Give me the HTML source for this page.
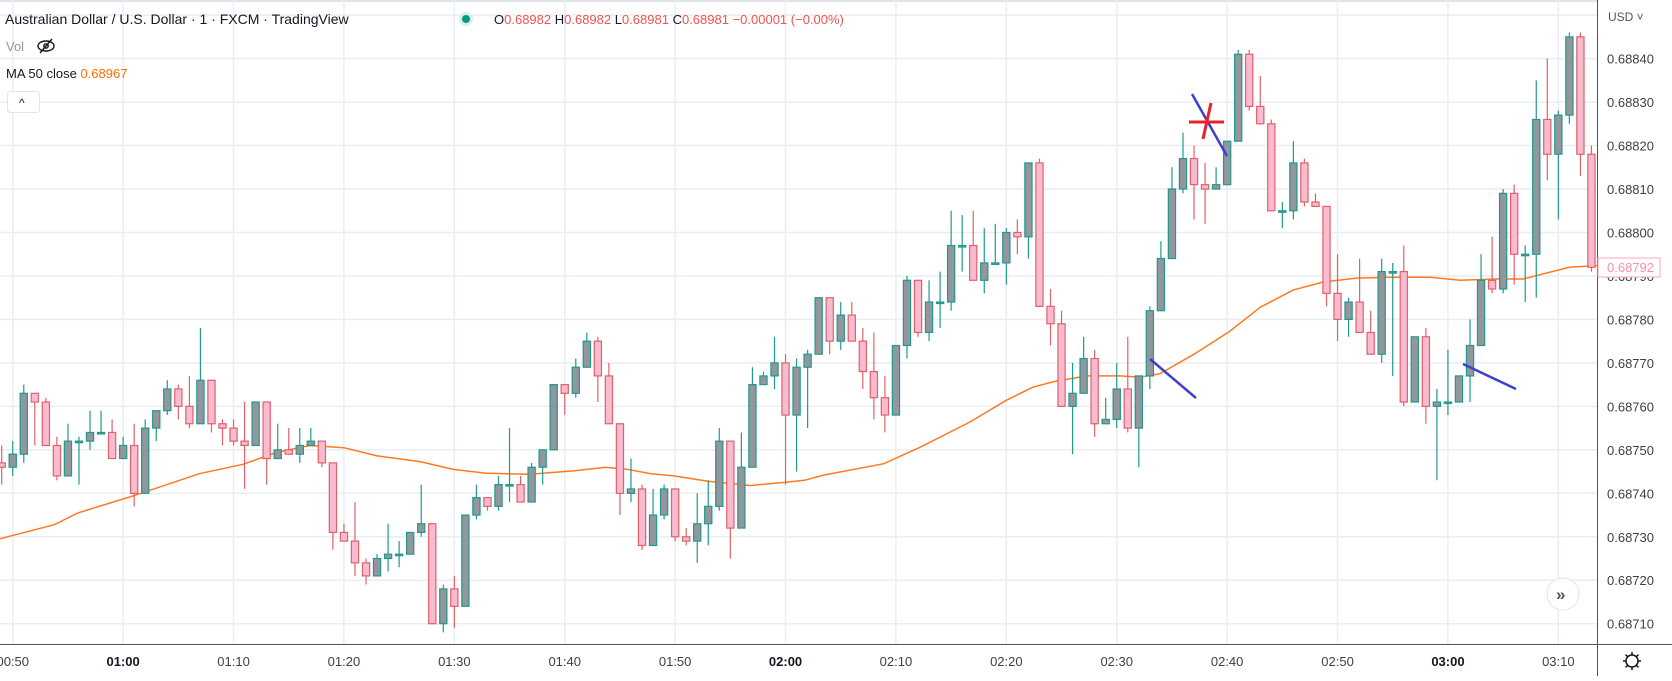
<!DOCTYPE html>
<html><head><meta charset="utf-8">
<style>
html,body{margin:0;padding:0;background:#fff;}
body{width:1672px;height:676px;overflow:hidden;font-family:"Liberation Sans",sans-serif;}
svg text{font-family:"Liberation Sans",sans-serif;}
</style></head>
<body>
<svg id="chart" width="1672" height="676" viewBox="0 0 1672 676" xmlns="http://www.w3.org/2000/svg">
  <rect x="0" y="0" width="1672" height="676" fill="#ffffff"/>
  <line x1="0" y1="1" x2="1672" y2="1" stroke="#e0e3eb" stroke-width="2"/>
  <g id="grid"></g>
  <g id="ma"></g>
  <g id="candles"></g>
  <g id="drawings">
    <line x1="1192" y1="94" x2="1227" y2="156" stroke="#3f3fcc" stroke-width="2.5"/>
    <line x1="1189" y1="122" x2="1224" y2="122" stroke="#e8202a" stroke-width="3"/>
    <line x1="1211" y1="103" x2="1203" y2="139" stroke="#e8202a" stroke-width="3"/>
    <line x1="1150" y1="359" x2="1196" y2="398" stroke="#3f3fcc" stroke-width="2.5"/>
    <line x1="1463" y1="364" x2="1516" y2="389" stroke="#3f3fcc" stroke-width="2.5"/>
  </g>
  <rect x="1597" y="0" width="75" height="676" fill="#ffffff"/>
  <rect x="0" y="644" width="1672" height="32" fill="#ffffff"/>
  <line x1="1597.5" y1="0" x2="1597.5" y2="676" stroke="#50535e" stroke-width="1"/>
  <line x1="0" y1="644.5" x2="1672" y2="644.5" stroke="#50535e" stroke-width="1"/>
  <g id="yaxis"></g>
  <g id="xaxis"></g>
  <text x="1608" y="21" font-size="12" fill="#50535e">USD ˅</text>
  <g>
    <rect x="1598" y="258" width="62" height="19" fill="#fff" stroke="#f7a9bd" stroke-width="1"/>
    <text x="1607" y="272" font-size="13" fill="#f48fb1">0.68792</text>
  </g>
  <g transform="translate(1632,661)">
    <circle r="6" fill="none" stroke="#131722" stroke-width="1.5"/>
    <g stroke="#131722" stroke-width="1.5">
      <line x1="0" y1="-9" x2="0" y2="-6"/><line x1="0" y1="6" x2="0" y2="9"/>
      <line x1="-9" y1="0" x2="-6" y2="0"/><line x1="6" y1="0" x2="9" y2="0"/>
      <line x1="-6.4" y1="-6.4" x2="-4.2" y2="-4.2"/><line x1="4.2" y1="4.2" x2="6.4" y2="6.4"/>
      <line x1="-6.4" y1="6.4" x2="-4.2" y2="4.2"/><line x1="4.2" y1="-4.2" x2="6.4" y2="-6.4"/>
    </g>
  </g>
  <g>
    <circle cx="1563" cy="594" r="16" fill="#fff" stroke="#e0e3eb"/>
    <text x="1556" y="600" font-size="17" font-weight="bold" fill="#50535e">»</text>
  </g>
  <text x="5" y="24" font-size="14" fill="#131722">Australian Dollar / U.S. Dollar · 1 · FXCM · TradingView</text>
  <circle cx="466" cy="19" r="7" fill="#d6f0ed"/>
  <circle cx="466" cy="19" r="4" fill="#089981"/>
  <text x="494" y="24" font-size="13" fill="#131722">O<tspan fill="#ef5350">0.68982</tspan> H<tspan fill="#ef5350">0.68982</tspan> L<tspan fill="#ef5350">0.68981</tspan> C<tspan fill="#ef5350">0.68981 −0.00001 (−0.00%)</tspan></text>
  <text x="6" y="51" font-size="13" fill="#9598a1">Vol</text>
  <g transform="translate(46,46)">
    <ellipse rx="8" ry="5" fill="none" stroke="#131722" stroke-width="1.4"/>
    <circle r="2.2" fill="none" stroke="#131722" stroke-width="1.4"/>
    <line x1="-6" y1="7" x2="6" y2="-7" stroke="#131722" stroke-width="1.4"/>
  </g>
  <text x="6" y="78" font-size="13" fill="#131722">MA 50 close <tspan fill="#ff6d00">0.68967</tspan></text>
  <g>
    <rect x="7.5" y="91.5" width="32" height="21" rx="3" fill="#fff" stroke="#e0e3eb"/>
    <text x="19" y="107" font-size="12" fill="#131722">^</text>
  </g>
</svg>
<script>
var opens=[747,746,749,763,761,751,744,752,752,754,754,748,751,740,755,759,764,760,756,766,756,755,752,751,761,748,750,749,751,752,747,731,729,724,721,725,726,726,731,733,710,718,714,735,739,737,742,742,738,746,750,765,763,769,775,767,756,740,741,728,735,741,730,729,733,737,752,732,746,765,767,770,758,769,772,785,775,781,775,768,762,758,774,789,777,784,784,797,797,789,793,793,800,799,816,783,779,760,763,771,756,757,764,755,767,782,794,810,817,811,810,811,821,841,829,825,805,805,816,807,806,786,780,784,777,772,791,791,761,776,760,761,761,767,774,789,787,809,795,795,826,818,827,845,818];
var highs=[751,752,765,763,762,753,756,753,759,759,757,753,756,757,759,766,765,767,778,766,757,757,761,761,761,756,755,755,755,752,747,733,738,725,726,733,729,731,742,733,719,721,735,742,739,744,755,744,747,750,765,765,771,777,776,770,756,748,742,741,742,741,732,740,743,755,752,754,769,768,776,772,771,773,785,785,784,784,778,777,767,774,790,789,789,791,805,804,805,801,802,801,803,816,817,787,782,770,776,773,762,770,776,767,783,798,815,823,820,816,815,821,842,842,836,826,807,821,817,809,806,795,785,794,782,794,793,797,776,778,764,773,767,780,795,799,810,811,797,835,840,828,846,846,820];
var lows=[742,744,747,751,751,743,744,742,750,754,748,748,737,740,752,758,757,755,756,754,751,751,741,751,742,748,749,747,751,746,727,729,721,719,721,722,723,726,730,710,708,709,714,734,736,736,738,738,738,742,750,758,762,769,761,756,735,738,727,728,734,729,728,724,728,736,725,732,746,765,764,742,745,755,772,772,773,775,764,757,754,758,771,776,775,778,782,791,789,786,793,788,795,794,783,774,760,749,763,753,756,755,754,746,764,782,794,809,803,802,810,811,821,828,825,805,801,803,806,806,783,775,776,777,772,770,767,760,761,756,743,758,761,761,774,786,786,788,784,785,812,803,825,813,791];
var closes=[746,749,763,761,751,744,752,752,754,754,748,751,740,755,759,764,760,756,766,756,755,752,751,761,748,750,749,751,752,747,731,729,724,721,725,726,726,731,733,710,718,714,735,739,737,742,742,738,746,750,765,763,769,775,767,756,740,741,728,735,741,730,729,733,737,752,732,746,765,767,770,758,769,772,785,775,781,775,768,762,758,774,789,777,784,784,797,797,789,793,793,800,799,816,783,779,760,763,771,756,757,764,755,767,782,794,810,817,811,810,811,821,841,829,825,805,805,816,807,806,786,780,784,777,772,791,791,761,776,760,761,761,767,774,789,787,809,795,795,826,818,827,845,818,792];
var maIdx=[-0.2,4.8,6.9,11.9,17.9,21.9,24.9,27.9,31,34,37.9,40.9,43.9,47.8,51.9,54.7,56.7,58.8,60.9,63.9,67.8,70.9,72.7,74.5,79.9,83.2,87.7,91,93.4,95.3,98.3,101.3,103.1,104.9,108,111.2,114,117,119.7,122.7,125.8,129.4,132.1,135.4,137.8,142,144.5];
var maVal=[729.5,732.8,735.5,739.4,744.5,746.7,749.4,751,750.5,748.6,747.3,745.5,744.6,744.4,745.2,746,745.5,744.5,744,742.8,741.8,742.5,743,744.2,746.8,750.6,756.4,761.4,764.4,765.7,767,767,766.7,767.5,772,777.2,782.8,786.8,788.6,789.5,789.7,789.7,789,789.3,789.3,792,792.4];
var priceTicks=[850,840,830,820,810,800,790,780,770,760,750,740,730,720,710];
var timeLabels=["00:50","01:00","01:10","01:20","01:30","01:40","01:50","02:00","02:10","02:20","02:30","02:40","02:50","03:00","03:10"];
var timeIdx=[1,11,21,31,41,51,61,71,81,91,101,111,121,131,141];
var boldLabels=["01:00","02:00","03:00"];

(function(){
var NS="http://www.w3.org/2000/svg";
function xScale(i){return 1.7+11.04*i;}
function yScale(u){return 58.6+(840-u)*4.347;}
function mk(tag,attrs,parent){var e=document.createElementNS(NS,tag);for(var k in attrs)e.setAttribute(k,attrs[k]);parent.appendChild(e);return e;}

var grid=document.getElementById('grid');
var yaxis=document.getElementById('yaxis');
var xaxis=document.getElementById('xaxis');
priceTicks.forEach(function(u){
  var y=yScale(u);
  var gl=mk('line',{x1:0,x2:1597,y1:y,y2:y,stroke:'#e9eef3','stroke-width':1.5},grid);
  
  
  if(u<=840){
    var t=mk('text',{x:1607,y:y+5,'font-size':13,fill:'#3c3f4a'},yaxis);
    t.textContent=(0.68+u/100000).toFixed(5);
    
    
  }
});
timeIdx.forEach(function(idx,k){
  var x=xScale(idx);
  var gl=mk('line',{x1:x,x2:x,y1:0,y2:644,stroke:'#e9eef3','stroke-width':1.5},grid);
  
  
  var b=boldLabels.indexOf(timeLabels[k])>=0;
  var t=mk('text',{x:x,y:666,'font-size':13,'text-anchor':'middle',fill:b?'#131722':'#3c3f4a','font-weight':b?'bold':'normal'},xaxis);
  t.textContent=timeLabels[k];
  
  
});

var ma=document.getElementById('ma');
var pts=maIdx.map(function(i,k){return xScale(i).toFixed(1)+','+yScale(maVal[k]).toFixed(1);}).join(' ');
var pl=mk('polyline',{points:pts,fill:'none',stroke:'#ff7a1f','stroke-width':1.5},ma);



var cg=document.getElementById('candles');
for(var i=0;i<opens.length;i++){
  var o=opens[i],c=closes[i],h=highs[i],l=lows[i];
  var bull=c>=o;
  var edge=bull?'#1f9a8c':'#e0616a';
  var fill=bull?'#93969d':'#f8bbd0';
  var x=xScale(i);
  var g=mk('g',{},cg);
  
  
  mk('line',{x1:x,x2:x,y1:yScale(h),y2:yScale(l),stroke:edge,'stroke-width':1.2},g);
  var bodyTop=yScale(Math.max(o,c)),bodyBot=yScale(Math.min(o,c));
  var hgt=Math.max(bodyBot-bodyTop,1.5);
  mk('rect',{x:x-3.6,y:bodyTop,width:7.2,height:hgt,fill:fill,stroke:edge,'stroke-width':1.2},g);
}
})();
</script>
</body></html>
